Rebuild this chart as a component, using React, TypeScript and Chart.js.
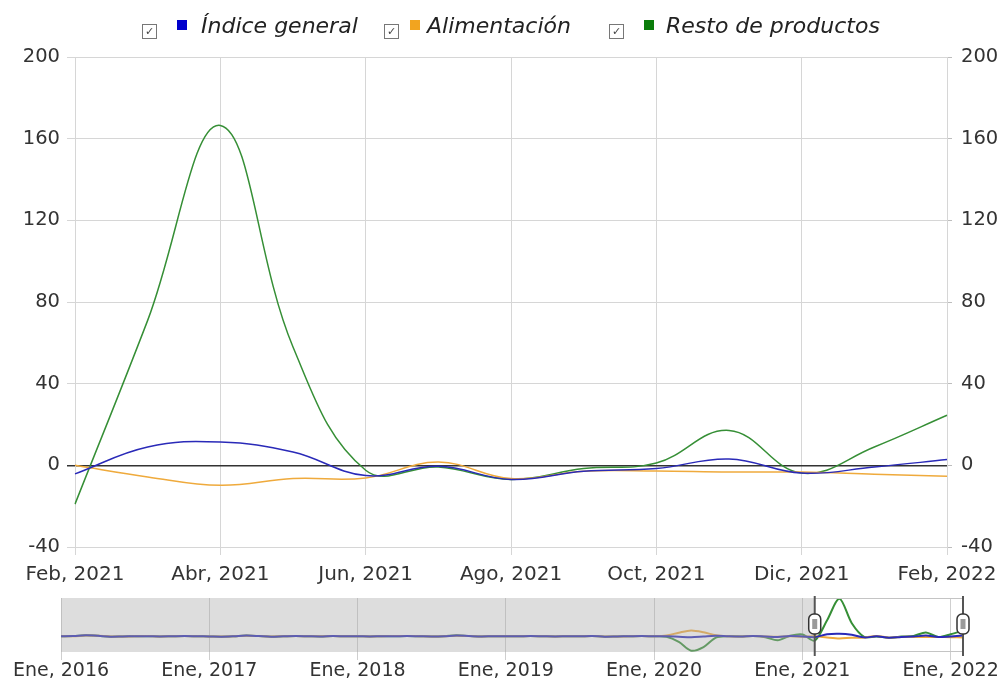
import React, { useEffect, useRef } from "react";
import { Chart, registerables } from "chart.js";
Chart.register(...registerables);

// ---- Main chart data (monthly variation, Feb 2021 - Feb 2022) ----
const months = [
  "Feb, 2021", "Mar, 2021", "Abr, 2021", "May, 2021", "Jun, 2021", "Jul, 2021",
  "Ago, 2021", "Sep, 2021", "Oct, 2021", "Nov, 2021", "Dic, 2021", "Ene, 2022", "Feb, 2022",
];
const indiceGeneral = [-4.2, 9, 11.4, 6.5, -5, -0.5, -6.9, -2.9, -1.6, 3.1, -3.8, -0.8, 2.8];
const alimentacion = [0, -5.7, -9.8, -6.5, -6.2, 1.6, -6.5, -2.9, -2.8, -3.3, -3.3, -4.4, -5.4];
const restoProductos = [-19, 71, 166.5, 58, -2.4, -0.8, -6.9, -1.6, 1.1, 17.1, -3.8, 9, 24.5];
const yTicks = [-40, 0, 40, 80, 120, 160, 200];

// ---- Navigator history (Ene 2016 - Ene 2021) ----
const histIndice = [
  0, 1, 4, 2, -2, -1, 0, 0, -1, 0, 1, 0,
  -1, -2, 0, 3, 1, -2, 0, 1, 0, -1, 1, 0,
  0, -1, 0, 0, 1, 0, -1, 0, 3, 1, -1, 0,
  0, 0, 1, 0, -1, 0, 0, 1, -2, -1, 0, 1,
  0, 0, -2, -4, -1, 2, 0, -1, 1, -1, -3, 1,
  -1,
];
const histAlim = [
  0, 0, 3, 2, -1, -1, 0, 1, -1, 0, 1, 0,
  -1, -1, 0, 2, 1, -1, 0, 1, 0, 0, 1, 0,
  0, -1, 0, 1, 1, 0, -1, 0, 2, 1, -1, 0,
  0, 0, 1, 0, -1, 0, 0, 1, -1, -1, 0, 1,
  0, 3, 16, 26, 18, 4, 0, -1, 1, -1, -2, 0,
  -2,
];
const histResto = [
  0, 1, 4, 2, -2, -1, 0, 0, -1, 0, 1, 0,
  -1, -2, 0, 3, 1, -2, 0, 1, 0, -1, 1, 0,
  0, -1, 0, 0, 1, 0, -1, 0, 4, 1, -1, 0,
  0, 0, 1, 0, -1, 0, 0, 1, -2, -1, 0, 1,
  0, -2, -25, -64, -48, -6, 0, -1, 1, -4, -18, 2,
  8,
];
const navTickLabels = ["Ene, 2016", "Ene, 2017", "Ene, 2018", "Ene, 2019", "Ene, 2020", "Ene, 2021", "Ene, 2022"];

const seriesNames = ["Índice general", "Alimentación", "Resto de productos"];
const lineColors = ["#2a2ab8", "#efaa3c", "#368f36"];
const legendColors = ["#0000cc", "#f2a41f", "#0b7d0b"];

const FONT = '"DejaVu Sans", Verdana, sans-serif';

const navIndice = [...histIndice, ...indiceGeneral];
const navAlim = [...histAlim, ...alimentacion];
const navResto = [...histResto, ...restoProductos];
const selStart = histIndice.length; // Feb 2021
const selEnd = navIndice.length - 1; // Feb 2022

function Legend() {
  const pos = [
    { cb: 142, sq: 177, tx: 201 },
    { cb: 384, sq: 410, tx: 427 },
    { cb: 609, sq: 644, tx: 666 },
  ];
  return (
    <div style={{ position: "absolute", left: 0, top: 0, width: 1000, height: 50, zIndex: 2 }}>
      {seriesNames.map((name, i) => (
        <React.Fragment key={name}>
          <span
            style={{
              position: "absolute", left: pos[i].cb, top: 24, width: 13, height: 13,
              border: "1px solid #777", background: "#fff", boxSizing: "content-box",
              fontFamily: FONT, fontSize: 11, lineHeight: "13px", textAlign: "center", color: "#444",
            }}
          >✓</span>
          <span
            style={{
              position: "absolute", left: pos[i].sq, top: 20, width: 10, height: 10,
              background: legendColors[i],
            }}
          />
          <span
            style={{
              position: "absolute", left: pos[i].tx, top: 13, fontFamily: FONT, fontSize: 22,
              fontStyle: "italic", lineHeight: "26px", color: "#222", whiteSpace: "nowrap",
            }}
          >{name}</span>
        </React.Fragment>
      ))}
    </div>
  );
}

const navPlugin = {
  id: "navSelection",
  afterDatasetsDraw(chart: any) {
    const { ctx, chartArea: a, scales } = chart;
    const x0 = scales.x.getPixelForValue(selStart);
    const x1 = scales.x.getPixelForValue(selEnd);
    ctx.save();
    ctx.fillStyle = "rgba(170,170,170,0.4)";
    ctx.fillRect(a.left, a.top, x0 - a.left, a.bottom - a.top);
    if (a.right > x1) ctx.fillRect(x1, a.top, a.right - x1, a.bottom - a.top);
    ctx.strokeStyle = "#c4c4c4";
    ctx.lineWidth = 1;
    ctx.beginPath();
    ctx.moveTo(x0, a.top + 0.5);
    ctx.lineTo(x1, a.top + 0.5);
    ctx.moveTo(x0, a.bottom - 0.5);
    ctx.lineTo(x1, a.bottom - 0.5);
    ctx.stroke();
    const cy = (a.top + a.bottom) / 2 - 1;
    for (const x of [x0, x1]) {
      ctx.strokeStyle = "#555";
      ctx.lineWidth = 2;
      ctx.beginPath();
      ctx.moveTo(x, a.top - 2);
      ctx.lineTo(x, a.bottom + 4);
      ctx.stroke();
      ctx.beginPath();
      if (ctx.roundRect) ctx.roundRect(x - 6, cy - 10, 12, 20, 5);
      else ctx.rect(x - 6, cy - 10, 12, 20);
      ctx.fillStyle = "#fff";
      ctx.fill();
      ctx.strokeStyle = "#333";
      ctx.lineWidth = 1.5;
      ctx.stroke();
      ctx.fillStyle = "#9a9a9a";
      ctx.fillRect(x - 2.5, cy - 5, 5, 10);
    }
    ctx.restore();
  },
};

export default function App() {
  const mainRef = useRef<HTMLCanvasElement>(null);
  const navRef = useRef<HTMLCanvasElement>(null);

  useEffect(() => {
    document.body.style.margin = "0";
    const xFont = { family: FONT, size: 20 };
    const yFont = { family: FONT, size: 19.5 };
    const main = new Chart(mainRef.current!, {
      type: "line",
      data: {
        labels: months,
        datasets: [indiceGeneral, alimentacion, restoProductos].map((d, i) => ({
          label: seriesNames[i],
          data: d,
          borderColor: lineColors[i],
          backgroundColor: lineColors[i],
          borderWidth: 1.5,
          pointRadius: 0,
          tension: 0.4,
          fill: false,
          yAxisID: "y",
        })),
      },
      options: {
        animation: false,
        responsive: false,
        maintainAspectRatio: false,
        layout: { padding: { top: 57, left: 0, right: 0, bottom: 0 } },
        plugins: { legend: { display: false }, tooltip: { enabled: false } },
        scales: {
          x: {
            grid: { color: "#d6d6d6", tickLength: 8 },
            border: { color: "#d6d6d6" },
            ticks: {
              autoSkip: false,
              maxRotation: 0,
              font: xFont,
              color: "#333",
              padding: 8,
              callback: (_v: any, i: number) => (i % 2 === 0 ? months[i] : null),
            },
            afterFit: (s: any) => {
              s.height = 43;
              s.paddingLeft = 0;
              s.paddingRight = 0;
            },
          },
          y: {
            position: "left",
            min: -40,
            max: 200,
            afterBuildTicks: (s: any) => { s.ticks = yTicks.map((v) => ({ value: v })); },
            grid: {
              color: (c: any) => (c.tick && c.tick.value === 0 ? "#333" : "#d6d6d6"),
              lineWidth: (c: any) => (c.tick && c.tick.value === 0 ? 1.5 : 1),
              tickLength: 8,
            },
            border: { color: "#d6d6d6" },
            ticks: { font: yFont, color: "#333", padding: 7 },
            afterFit: (s: any) => { s.width = 75; },
          },
          y2: {
            position: "right",
            min: -40,
            max: 200,
            afterBuildTicks: (s: any) => { s.ticks = yTicks.map((v) => ({ value: v })); },
            grid: { drawOnChartArea: false, color: "#bdbdbd", tickLength: 5 },
            border: { color: "#d6d6d6" },
            ticks: { font: yFont, color: "#333", padding: 9 },
            afterFit: (s: any) => { s.width = 53; },
          },
        },
      },
    } as any);

    const nav = new Chart(navRef.current!, {
      type: "line",
      data: {
        datasets: [navIndice, navAlim, navResto].map((d, i) => ({
          label: seriesNames[i],
          data: d.map((v, k) => ({ x: k, y: v })),
          borderColor: lineColors[i],
          borderWidth: 2,
          pointRadius: 0,
          tension: 0.3,
          fill: false,
        })),
      },
      options: {
        animation: false,
        responsive: false,
        maintainAspectRatio: false,
        layout: { padding: { top: 8, left: 61, right: 37, bottom: 0 } },
        plugins: { legend: { display: false }, tooltip: { enabled: false } },
        scales: {
          x: {
            type: "linear",
            min: 0,
            max: selEnd,
            afterBuildTicks: (s: any) => {
              s.ticks = navTickLabels.map((_l, i) => ({ value: i * 12 }));
            },
            grid: { color: "#cfcfcf", tickLength: 8 },
            border: { display: false },
            ticks: {
              font: { family: FONT, size: 19 },
              color: "#333",
              padding: 0,
              maxRotation: 0,
              autoSkip: false,
              callback: (v: any) => navTickLabels[Math.round(v / 12)],
            },
            afterFit: (s: any) => {
              s.height = 37;
              s.paddingLeft = 0;
              s.paddingRight = 0;
            },
          },
          y: { display: false, min: -70, max: 170 },
        },
      },
      plugins: [navPlugin],
    } as any);

    return () => {
      main.destroy();
      nav.destroy();
    };
  }, []);

  return (
    <div style={{ position: "relative", width: 1000, height: 689, background: "#fff", overflow: "hidden" }}>
      <canvas ref={mainRef} width={1000} height={590} style={{ position: "absolute", left: 0, top: 0, width: 1000, height: 590 }} />
      <canvas ref={navRef} width={1000} height={99} style={{ position: "absolute", left: 0, top: 590, width: 1000, height: 99 }} />
      <Legend />
    </div>
  );
}
